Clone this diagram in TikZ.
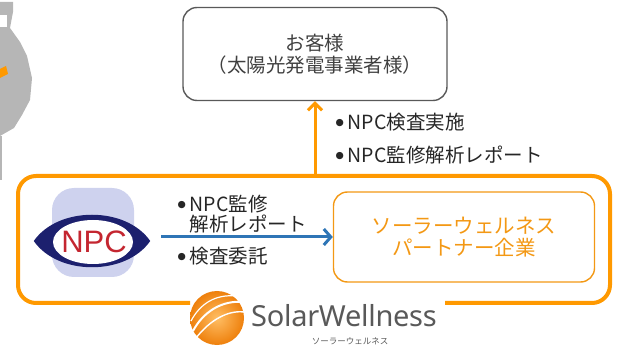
\documentclass[tikz,border=0pt]{standalone}
\usepackage{fontspec}
\setmainfont{Noto Sans CJK JP}
\newfontfamily\logofont{Noto Sans}
\newfontfamily\npcfont{Liberation Sans}
\newfontfamily\symfont{DejaVu Sans}
\newcommand\bul{{\symfont\fontsize{9.5}{9.5}\selectfont\raisebox{3.5pt}{●}}\hspace{4pt}}
\usetikzlibrary{arrows.meta,positioning,shapes.geometric}

\definecolor{swOrange}{RGB}{255,153,0}
\definecolor{partnerOrange}{RGB}{243,152,20}
\definecolor{npcNavy}{RGB}{28,32,110}
\definecolor{npcRed}{RGB}{196,38,48}
\definecolor{npcLilac}{RGB}{206,210,238}
\definecolor{flowBlue}{RGB}{46,117,182}
\definecolor{boxGray}{RGB}{89,89,89}
\definecolor{textGray}{RGB}{64,64,64}
\definecolor{blobGray}{RGB}{182,182,182}
\definecolor{sunLight}{RGB}{255,190,100}
\definecolor{sunDark}{RGB}{238,128,12}

\tikzset{
  custbox/.style={draw=boxGray, line width=1.4pt, rounded corners=14pt,
    minimum width=264pt, minimum height=93pt, align=center, text=textGray,
    font=\fontsize{19.5}{22}\selectfont},
  partnerbox/.style={draw=partnerOrange, line width=1.4pt, rounded corners=14pt,
    minimum width=261pt, minimum height=90pt, align=center, text=partnerOrange,
    font=\fontsize{20.5}{22}\selectfont},
  bulletlabel/.style={anchor=west, align=left, text=black!85,
    font=\fontsize{19.5}{20.5}\selectfont},
  upflow/.style={draw=swOrange, line width=3pt,
    -{Straight Barb[length=7pt,width=14pt,line width=3pt]}},
  sideflow/.style={draw=flowBlue, line width=3pt,
    -{Straight Barb[length=7pt,width=16pt,line width=3pt]}},
}

\begin{document}
\begin{tikzpicture}[x=1pt,y=-1pt]
  \useasboundingbox (0,0) rectangle (621,347);

  % scrap of the mascot at the left edge
  \fill[blobGray] (0,2) -- (13,2) -- (13,12) -- (10,28) -- (20,42) -- (27,56)
    -- (32,78) -- (30,100) -- (22,115) -- (14,128) -- (0,136) -- cycle;
  \fill[white] (0,15) rectangle (7,27);
  \fill[swOrange] (0,69) -- (6,66) -- (8,74) -- (0,78) -- cycle;
  \fill[blobGray] (0,136) rectangle (2,180);

  % customer
  \node[custbox] (customer) at (315,54) {お客様\\（太陽光発電事業者様）};

  % outer frame, open at the bottom for the logo
  \draw[swOrange, line width=4pt, rounded corners=18pt]
    (190,303) -| (18,176) -| (610,303) -- (445,303);
  \coordinate (frametop) at (315,176);

  % report arrow up to the customer
  \draw[upflow] (frametop) -- (customer);
  \node[bulletlabel] (rep1) at (332,122) {\bul NPC検査実施};
  \node[bulletlabel] (rep2) at (332,155) {\bul NPC監修解析レポート};

  % NPC logo
  \fill[npcLilac, rounded corners=22pt] (52,188) rectangle (134,277);
  \node[ellipse, minimum width=116pt, minimum height=56pt, inner sep=0pt]
    (npc) at (92,241) {};
  \fill[npcNavy] (npc.west) .. controls (58,206) and (126,206) .. (npc.east)
    .. controls (126,276) and (58,276) .. (npc.west) -- cycle;
  \fill[white] (93,242) ellipse [x radius=40pt, y radius=22pt];
  \node[text=npcRed, font=\npcfont\fontsize{31}{31}\selectfont] (npctext)
    at (94,242) {NPC};

  % partner
  \node[partnerbox] (partner) at (464,237) {ソーラーウェルネス\\パートナー企業};

  % commission arrow
  \draw[sideflow, shorten <=11pt] (npc.east |- partner.west) -- (partner.west);
  \node[bulletlabel] (order1) at (174,214)
    {\bul NPC監修\\\phantom{\bul}解析レポート};
  \node[bulletlabel] (order2) at (174,256) {\bul 検査委託};

  % Solar Wellness logo
  \shade[inner color=sunLight, outer color=sunDark] (217,318) circle (27pt);
  \draw[white, line width=2pt] (193,331) .. controls (203,312) and (222,300) .. (243,302);
  \draw[white, line width=1.4pt] (196,338) .. controls (210,320) and (228,310) .. (244,312);
  \draw[white, line width=1.2pt] (191,321) .. controls (200,304) and (215,294) .. (236,296);
  \node[anchor=west, text=boxGray, inner sep=0pt,
    font=\logofont\fontsize{29}{29}\selectfont\addfontfeature{LetterSpace=-1}]
    (sw) at (251,316) {SolarWellness};
  \node[text=boxGray, inner sep=0pt, font=\fontsize{8.5}{8.5}\selectfont]
    (swkana) at (350,341) {ソーラーウェルネス};
\end{tikzpicture}
\end{document}
